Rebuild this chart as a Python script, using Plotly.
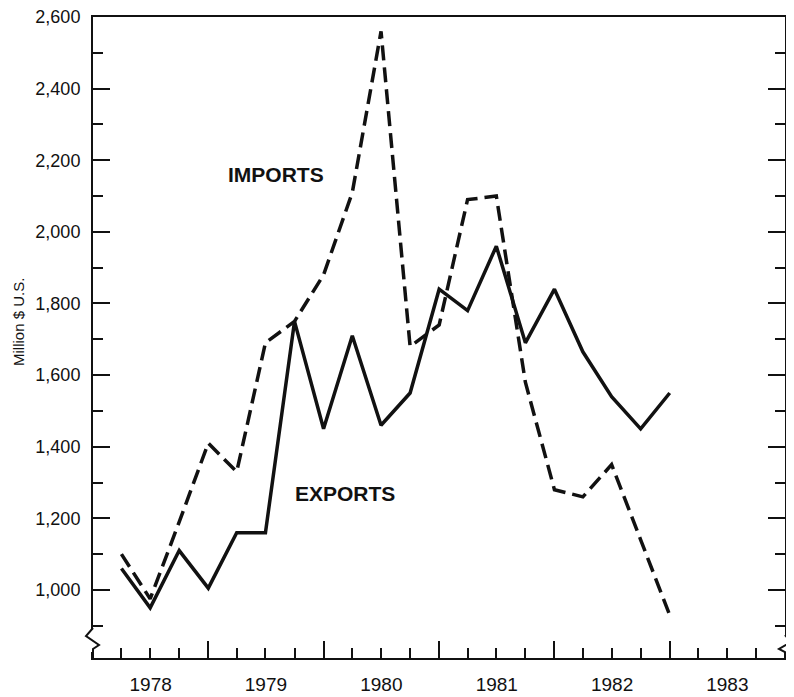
import plotly.graph_objects as go

# ---------------- data ----------------
quarter_dates = [
    "1978-04-01", "1978-07-01", "1978-10-01", "1979-01-01",
    "1979-04-01", "1979-07-01", "1979-10-01", "1980-01-01",
    "1980-04-01", "1980-07-01", "1980-10-01", "1981-01-01",
    "1981-04-01", "1981-07-01", "1981-10-01", "1982-01-01",
    "1982-04-01", "1982-07-01", "1982-10-01", "1983-01-01",
]
exports = [1060, 950, 1110, 1005, 1160, 1160, 1750, 1450, 1710, 1460,
           1550, 1840, 1780, 1960, 1690, 1840, 1665, 1540, 1450, 1550]
imports = [1100, 975, 1190, 1410, 1330, 1690, 1750, 1880, 2110, 2560,
           1680, 1740, 2090, 2100, 1580, 1280, 1260, 1350, 1140, 930]

y_tick_values = [1000, 1200, 1400, 1600, 1800, 2000, 2200, 2400, 2600]
y_minor_values = [900, 1100, 1300, 1500, 1700, 1900, 2100, 2300, 2500]
x_range = ["1978-01-01", "1984-01-01"]
y_range = [810, 2600]

# ---------------- layout geometry ----------------
OFF = 8                      # default page body margin
W, H = 794 - OFF, 697 - OFF
ML, MR, MT, MB = 93 - OFF, 9, 17 - OFF, 39
PW, PH = W - ML - MR, H - MT - MB
INK = "#111111"
FONT = "Liberation Sans, Arial, Helvetica, sans-serif"


def px(x, y):
    """page pixel -> paper coordinates (for decorations only)"""
    x, y = x - OFF, y - OFF
    return (x - ML) / PW, (H - MB - y) / PH


def path_from_px(points):
    parts = []
    for i, (x, y) in enumerate(points):
        X, Y = px(x, y)
        parts.append(("M" if i == 0 else "L") + f"{X:.5f},{Y:.5f}")
    return " ".join(parts)


fig = go.Figure()
fig.add_trace(go.Scatter(
    x=quarter_dates, y=imports, mode="lines", name="IMPORTS",
    line=dict(color=INK, width=3.5, dash="15px,7px"),
))
fig.add_trace(go.Scatter(
    x=quarter_dates, y=exports, mode="lines", name="EXPORTS",
    line=dict(color=INK, width=3.5),
))

# break marks on the left and right axes
shapes = []
for (x0, x1, y0, y1) in [(85, 101, 629, 652), (777, 793, 636, 652)]:
    a0, b0 = px(x0, y1)
    a1, b1 = px(x1, y0)
    shapes.append(dict(type="rect", xref="paper", yref="paper",
                       x0=a0, x1=a1, y0=b0, y1=b1,
                       fillcolor="white", line=dict(width=0), layer="above"))
shapes.append(dict(type="path", xref="paper", yref="paper", layer="above",
                   path=path_from_px([(93, 628), (86, 636), (99, 645), (93, 649), (93, 653)]),
                   line=dict(color=INK, width=2)))
shapes.append(dict(type="path", xref="paper", yref="paper", layer="above",
                   path=path_from_px([(785, 635), (791, 642), (779, 649), (785, 652), (785, 653)]),
                   line=dict(color=INK, width=2)))

ix, iy = px(18, 322)

fig.update_layout(
    width=W, height=H,
    margin=dict(l=ML, r=MR, t=MT, b=MB, pad=0, autoexpand=False),
    paper_bgcolor="white", plot_bgcolor="white",
    showlegend=False,
    font=dict(family=FONT, color=INK),
    xaxis=dict(
        type="date", range=x_range, automargin=False,
        ticklabeloverflow="allow",
        tickmode="linear", tick0="1978-01-01", dtick="M12",
        ticklabelmode="period", tickformat="%Y",
        ticks="inside", ticklen=17, tickwidth=2, tickcolor=INK,
        showline=True, linewidth=2, linecolor=INK, mirror=True,
        showgrid=False, zeroline=False,
        tickfont=dict(size=19, family=FONT, color=INK),
        ticklabelstandoff=8,
        minor=dict(tickmode="linear", tick0="1978-01-01", dtick="M3",
                   ticks="inside", ticklen=10, tickwidth=2, tickcolor=INK,
                   showgrid=False),
    ),
    xaxis2=dict(
        type="date", range=x_range, overlaying="x", side="top", anchor="y",
        automargin=False,
        tickmode="linear", tick0="1978-01-01", dtick="M12",
        ticks="inside", ticklen=17, tickwidth=2, tickcolor=INK,
        showticklabels=False, showline=False, showgrid=False, zeroline=False,
    ),
    yaxis=dict(
        range=y_range, tickmode="array", tickvals=y_tick_values,
        tickformat=",d", automargin=False, ticklabeloverflow="allow",
        ticks="inside", ticklen=17, tickwidth=2, tickcolor=INK,
        showline=True, linewidth=2, linecolor=INK, mirror="ticks",
        showgrid=False, zeroline=False,
        tickfont=dict(size=18, family=FONT, color=INK),
        ticklabelstandoff=7,
        minor=dict(tickmode="array", tickvals=y_minor_values,
                   ticks="inside", ticklen=10, tickwidth=2, tickcolor=INK,
                   showgrid=False),
    ),
    shapes=shapes,
    annotations=[
        dict(text="<b>IMPORTS</b>", x="1979-08-03", y=2161, xref="x", yref="y",
             showarrow=False, font=dict(size=21, family=FONT, color=INK)),
        dict(text="<b>EXPORTS</b>", x="1980-03-09", y=1270, xref="x", yref="y",
             showarrow=False, font=dict(size=21, family=FONT, color=INK)),
        dict(text="Million $ U.S.", x=ix, y=iy, xref="paper", yref="paper",
             xanchor="center", yanchor="middle",
             textangle=-90, showarrow=False,
             font=dict(size=15, family=FONT, color=INK)),
    ],
)

fig.write_html("out.html")
